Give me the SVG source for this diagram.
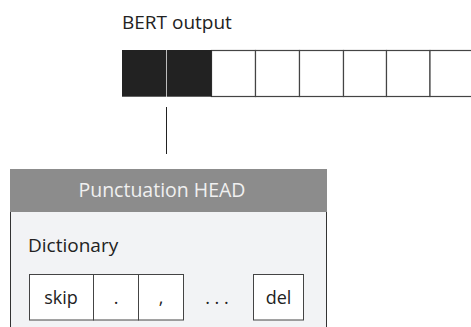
<svg xmlns="http://www.w3.org/2000/svg" width="471" height="327" viewBox="0 0 471 327">
<style>
text{font-family:"Open Sans","Noto Sans",sans-serif;fill:#222}
.cell{fill:#fff;stroke:#444;stroke-width:1.2}
.blk{fill:#222;stroke:none}
.dcell{fill:#fff;stroke:#444;stroke-width:1}
</style>
<rect width="471" height="327" fill="#fff"/>
<g id="bert">
<text x="122" y="29" font-size="19">BERT output</text>
<rect class="cell" x="211.5" y="50.5" width="44" height="46"/>
<rect class="cell" x="255.5" y="50.5" width="44" height="46"/>
<rect class="cell" x="299.5" y="50.5" width="44" height="46"/>
<rect class="cell" x="343.5" y="50.5" width="43" height="46"/>
<rect class="cell" x="386.5" y="50.5" width="43.5" height="46"/>
<rect class="cell" x="430" y="50.5" width="45" height="46"/>
<rect class="blk" x="122" y="50" width="44.3" height="46.7"/>
<rect class="blk" x="167" y="50" width="44.7" height="46.7"/>
</g>
<g id="connectors">
<line x1="166.5" y1="107" x2="166.5" y2="154" stroke="#222" stroke-width="1"/>
</g>
<g id="head">
<rect x="10" y="212" width="317" height="120" fill="#f2f3f5"/>
<line x1="10.5" y1="212" x2="10.5" y2="327" stroke="#333" stroke-width="1"/>
<line x1="326.5" y1="212" x2="326.5" y2="327" stroke="#333" stroke-width="1"/>
<rect x="10" y="169" width="317" height="43" fill="#8c8c8c"/>
<text x="162" y="196.5" font-size="19.5" text-anchor="middle" style="fill:#f0f0f0">Punctuation HEAD</text>
<text x="28" y="251.5" font-size="19">Dictionary</text>
</g>
<g id="dictionary">
<rect class="dcell" x="29.5" y="274.5" width="64" height="45.5"/>
<rect class="dcell" x="93.5" y="274.5" width="45" height="45.5"/>
<rect class="dcell" x="138.5" y="274.5" width="45" height="45.5"/>
<rect class="dcell" x="253.5" y="274.5" width="50" height="45.5"/>
<text x="61" y="304" font-size="18" text-anchor="middle">skip</text>
<text x="116" y="304" font-size="18" text-anchor="middle">.</text>
<text x="161" y="304" font-size="18" text-anchor="middle">,</text>
<text x="217" y="304" font-size="18" text-anchor="middle">. . .</text>
<text x="278.5" y="304" font-size="18" text-anchor="middle">del</text>
</g>
</svg>
